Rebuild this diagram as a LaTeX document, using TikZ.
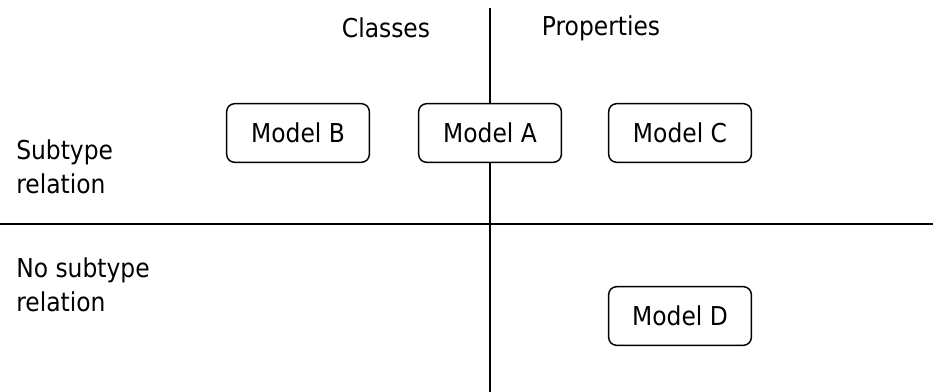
\documentclass[tikz,border=0pt]{standalone}
\usepackage{fontspec}
\setmainfont{DejaVu Sans}[FakeStretch=0.9]
\usepackage{tikz}
\usetikzlibrary{positioning}

\tikzset{
  model/.style={draw, line width=1.1pt, rounded corners=6pt, fill=white,
    minimum width=107pt, minimum height=44pt, inner sep=0pt},
  axis/.style={line width=1.1pt},
  label/.style={align=left, anchor=west, inner sep=0pt}
}

\begin{document}
\begin{tikzpicture}[x=0.75pt, y=-0.75pt, font=\fontsize{19.5}{25.5}\selectfont]
        \useasboundingbox (0,0) rectangle (935,392);
        % Axes
        \coordinate (top) at (490,8);
        \coordinate (bottom) at (490,392);
        \coordinate (left) at (0,224);
        \coordinate (right) at (933,224);
        \draw[axis] (top) -- (bottom);
        \draw[axis] (left) -- (right);
        % Column headings
        \node (classes) at (386,28) {Classes};
        \node (props) at (601,28) {Properties};
        % Row headings
        \node[label] (sub) at (16,167) {Subtype\\relation};
        \node[label] (nosub) at (16,285) {No subtype\\relation};
        % Models
        \node[model] (modelB) at (298,133) {Model B};
        \node[model] (modelA) at (490,133) {Model A};
        \node[model] (modelC) at (680,133) {Model C};
        \node[model] (modelD) at (680,316) {Model D};
      \end{tikzpicture}
\end{document}
